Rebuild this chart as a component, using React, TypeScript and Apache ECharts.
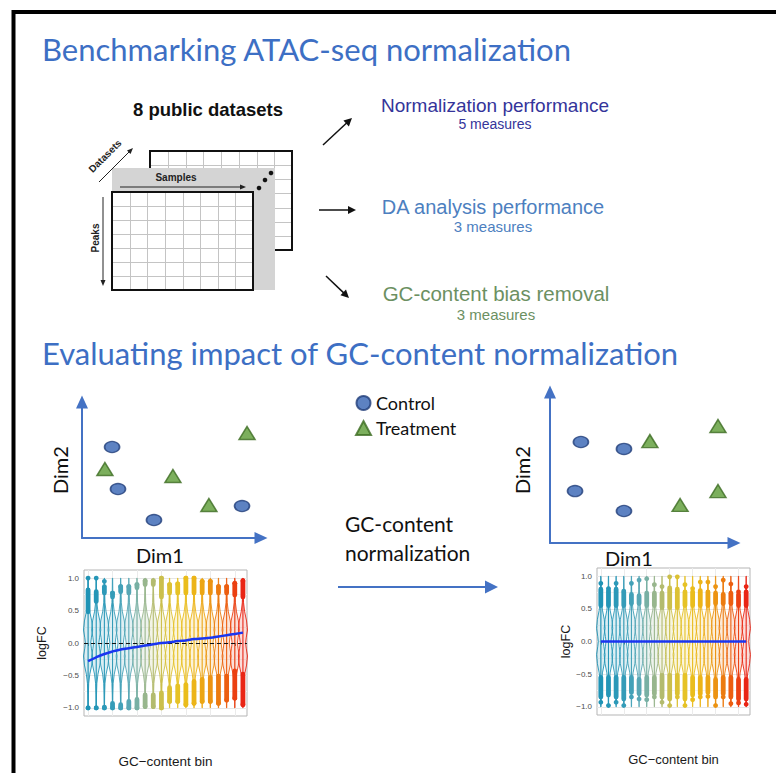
import React, { useEffect, useRef } from "react";
import * as echarts from "echarts";

// ---------- data ----------
const BINS = ["1","2","3","4","5","6","7","8","9","10","11","12","13","14","15","16","17","18","19","20"];
const BIN_COLORS = ["#1f93b5","#2596b7","#2c99b8","#359cb8","#43a1b8","#58a7b5","#78b0a4","#98b68d","#b3bb6e","#cbbf4c","#dcc133","#e6c226","#eabd1c","#ecb418","#eca615","#ec9312","#ec7b10","#ec5e10","#eb4012","#e92515"];

// violin density profile (relative half width along logFC)
const PROFILE_Y = [-1.0, -0.8, -0.62, -0.48, -0.34, -0.2, -0.08, 0.0, 0.08, 0.2, 0.34, 0.48, 0.62, 0.8, 1.0];
const PROFILE_W = [0.03, 0.06, 0.14, 0.38, 0.8, 1.0, 0.72, 0.58, 0.72, 1.0, 0.8, 0.38, 0.14, 0.06, 0.03];

// before normalization
const L_UP_MAX  = [1.00, 1.00, 0.95, 0.77, 0.87, 0.87, 0.90, 0.96, 0.96, 1.00, 0.90, 0.91, 1.00, 1.00, 0.95, 0.95, 0.87, 0.87, 0.92, 0.96];
const L_UP_HIGH = [0.82, 0.79, 0.87, 0.77, 0.87, 0.87, 0.90, 0.96, 0.96, 1.00, 0.90, 0.91, 1.00, 1.00, 0.95, 0.95, 0.87, 0.87, 0.92, 0.96];
const L_UP_LOW  = [0.48, 0.64, 0.77, 0.71, 0.79, 0.77, 0.85, 0.90, 0.90, 0.71, 0.77, 0.77, 0.77, 0.77, 0.77, 0.77, 0.77, 0.77, 0.74, 0.71];
const L_LO_HIGH = [-1.00, -1.00, -0.99, -0.93, -0.95, -0.90, -0.87, -0.80, -0.80, -0.77, -0.69, -0.66, -0.64, -0.59, -0.56, -0.53, -0.51, -0.51, -0.43, -0.48];
const L_LO_LOW  = [-1.00, -1.00, -1.00, -1.00, -1.00, -1.00, -1.00, -0.98, -0.98, -1.00, -0.90, -0.90, -0.95, -0.93, -0.90, -0.90, -0.93, -0.88, -0.85, -0.95];
const L_LO_MIN  = [-1.00, -1.00, -1.00, -1.00, -1.00, -1.00, -1.00, -0.98, -0.98, -1.00, -0.90, -0.90, -0.95, -0.93, -0.90, -0.90, -0.93, -0.88, -0.85, -0.95];
const LEFT_TREND = [-0.28, -0.22, -0.17, -0.13, -0.10, -0.08, -0.06, -0.04, -0.02, 0.00, 0.01, 0.03, 0.04, 0.06, 0.07, 0.08, 0.10, 0.12, 0.14, 0.16];

// after normalization
const R_UP_MAX  = [0.89, 0.81, 0.89, 0.77, 0.89, 0.94, 0.96, 0.87, 0.84, 0.99, 0.99, 0.87, 0.81, 0.91, 0.91, 0.84, 0.94, 0.88, 0.76, 0.84];
const R_UP_HIGH = [0.80, 0.78, 0.80, 0.75, 0.72, 0.70, 0.74, 0.74, 0.74, 0.82, 0.80, 0.76, 0.76, 0.78, 0.76, 0.74, 0.72, 0.74, 0.72, 0.76];
const R_UP_LOW  = [0.55, 0.55, 0.55, 0.55, 0.58, 0.58, 0.55, 0.55, 0.52, 0.52, 0.52, 0.55, 0.55, 0.55, 0.55, 0.58, 0.58, 0.58, 0.55, 0.55];
const R_LO_HIGH = [-0.55, -0.55, -0.55, -0.55, -0.55, -0.58, -0.55, -0.55, -0.52, -0.52, -0.52, -0.52, -0.55, -0.55, -0.55, -0.58, -0.55, -0.55, -0.58, -0.58];
const R_LO_LOW  = [-0.85, -0.82, -0.85, -0.88, -0.78, -0.80, -0.82, -0.80, -0.85, -0.88, -0.80, -0.88, -0.82, -0.80, -0.78, -0.85, -0.80, -0.85, -0.88, -0.88];
const R_LO_MIN  = [-0.93, -0.98, -0.93, -0.98, -0.85, -0.88, -0.89, -0.85, -0.93, -0.98, -0.85, -0.98, -0.89, -0.85, -0.84, -0.98, -0.85, -0.95, -0.94, -0.96];
const RIGHT_TREND = [0.00, 0.00, 0.00, 0.00, 0.00, 0.00, 0.00, 0.00, 0.00, 0.00, 0.00, 0.00, 0.00, 0.00, 0.00, 0.00, 0.00, 0.00, 0.00, 0.00];

// PCA-like scatter (Dim1, Dim2) in 0..100 units
const CONTROL_BEFORE = [[16.8, 66.9], [20.1, 36.0], [40.2, 13.2], [89.4, 23.5]];
const TREAT_BEFORE   = [[12.8, 50.7], [50.8, 45.6], [70.9, 24.3], [92.2, 77.2]];
const CONTROL_AFTER  = [[16.8, 66.9], [40.2, 62.3], [13.6, 34.4], [40.2, 21.2]];
const TREAT_AFTER    = [[54.3, 67.5], [91.3, 77.5], [91.3, 34.4], [70.7, 25.2]];

const Y_TICKS_LABELED = ["-1.0", "-0.5", "0.0", "0.5", "1.0"];

// ---------- helpers ----------
const BLUE = "#4472C4";
const CAL = "Lato, 'Open Sans', sans-serif";
const ARIAL = "'Liberation Sans', Arial, sans-serif";

function hexA(hex: string, a: number) {
  const n = parseInt(hex.slice(1), 16);
  return `rgba(${(n >> 16) & 255},${(n >> 8) & 255},${n & 255},${a})`;
}

function arrowEls(x1: number, y1: number, x2: number, y2: number, color: string, w: number, hl: number, hw: number) {
  const dx = x2 - x1, dy = y2 - y1, L = Math.hypot(dx, dy);
  const ux = dx / L, uy = dy / L;
  const bx = x2 - ux * hl, by = y2 - uy * hl;
  const px = -uy, py = ux;
  return [
    { type: "line", silent: true, shape: { x1, y1, x2: bx + ux, y2: by + uy }, style: { stroke: color, lineWidth: w } },
    { type: "polygon", silent: true, shape: { points: [[x2, y2], [bx + px * hw, by + py * hw], [bx - px * hw, by - py * hw]] }, style: { fill: color } },
  ];
}

function txt(x: number, y: number, text: string, font: string, fill: string, align = "left", rotation = 0) {
  return {
    type: "text", silent: true, x, y, rotation,
    style: { x: 0, y: 0, text, font, fill, align, verticalAlign: "middle", textAlign: align, textVerticalAlign: "middle" },
  };
}

function gridTable(x: number, y: number, w: number, h: number, cols: number, rows: number) {
  const els: any[] = [{ type: "rect", silent: true, shape: { x, y, width: w, height: h }, style: { fill: "#fff" } }];
  for (let c = 1; c < cols; c++) {
    const xx = Math.round(x + (w * c) / cols) + 0.5;
    els.push({ type: "line", silent: true, shape: { x1: xx, y1: y, x2: xx, y2: y + h }, style: { stroke: "#c4c4c4", lineWidth: 1 } });
  }
  for (let r = 1; r < rows; r++) {
    const yy = Math.round(y + (h * r) / rows) + 0.5;
    els.push({ type: "line", silent: true, shape: { x1: x, y1: yy, x2: x + w, y2: yy }, style: { stroke: "#c4c4c4", lineWidth: 1 } });
  }
  els.push({ type: "rect", silent: true, shape: { x, y, width: w, height: h }, style: { fill: "none", stroke: "#111", lineWidth: 2 } });
  return els;
}

function violinRender(params: any, api: any) {
  const i = api.value(0);
  const upMax = api.value(1), upHigh = api.value(2), upLow = api.value(3);
  const loHigh = api.value(4), loLow = api.value(5), loMin = api.value(6);
  const color = BIN_COLORS[i];
  const cx = api.coord([i, 0])[0];
  const band = api.size([1, 0])[0];
  const hw = band * 0.56;
  const y = (v: number) => api.coord([i, v])[1];
  const left: number[][] = [];
  const right: number[][] = [];
  for (let k = 0; k < PROFILE_Y.length; k++) {
    const py = y(PROFILE_Y[k]);
    left.push([cx - PROFILE_W[k] * hw, py]);
    right.unshift([cx + PROFILE_W[k] * hw, py]);
  }
  const r = 2.4;
  return {
    type: "group",
    children: [
      { type: "polygon", shape: { points: left.concat(right) }, style: { fill: hexA(color, 0.16), stroke: color, lineWidth: 0.9 } },
      { type: "line", shape: { x1: cx, y1: y(loMin), x2: cx, y2: y(upMax) }, style: { stroke: color, lineWidth: 1.1 } },
      { type: "rect", shape: { x: cx - r, y: y(upHigh) - r, width: 2 * r, height: y(upLow) - y(upHigh) + 2 * r, r }, style: { fill: color } },
      { type: "circle", shape: { cx, cy: y(upMax), r }, style: { fill: color } },
      { type: "rect", shape: { x: cx - r, y: y(loHigh) - r, width: 2 * r, height: y(loLow) - y(loHigh) + 2 * r, r }, style: { fill: color } },
      { type: "circle", shape: { cx, cy: y(loMin), r }, style: { fill: color } },
    ],
  };
}

function violinAxes(gridIndex: number, xGap: number, yGap: number, nameSize: number) {
  const x = {
    type: "category", gridIndex, data: BINS, boundaryGap: true,
    name: "GC\u2212content bin", nameLocation: "middle", nameGap: xGap,
    nameTextStyle: { fontFamily: ARIAL, fontSize: nameSize, color: "#1a1a1a" },
    axisLine: { show: false },
    axisTick: { show: true, alignWithLabel: true, length: 3, lineStyle: { color: "#444", width: 0.8 } },
    axisLabel: { show: false },
    splitLine: { show: true, alignWithLabel: true, lineStyle: { color: "#ebebeb", width: 1 } },
  };
  const yA = {
    type: "value", gridIndex, min: -1.125, max: 1.125, interval: 0.125,
    name: "logFC", nameLocation: "middle", nameGap: yGap, nameRotate: 90,
    nameTextStyle: { fontFamily: ARIAL, fontSize: 12.5, color: "#1a1a1a" },
    axisLine: { show: false },
    axisTick: { show: false },
    axisLabel: {
      fontFamily: ARIAL, fontSize: 8, color: "#4d4d4d", margin: 5,
      formatter: (v: number) => {
        const s = v.toFixed(1);
        return Y_TICKS_LABELED.indexOf(s) >= 0 && Math.abs(v * 2 - Math.round(v * 2)) < 1e-6 ? s.replace("-", "\u2212") : "";
      },
    },
    splitLine: { show: true, lineStyle: { color: ["transparent", "#e6e6e6", "transparent", "#f2f2f2"], width: 1 } },
  };
  return { x, y: yA };
}

function scatterAxes(gridIndex: number) {
  const line = { show: true, symbol: ["none", "triangle"], symbolSize: [12, 13], lineStyle: { color: BLUE, width: 2 } };
  return {
    x: { type: "value", gridIndex, min: 0, max: 100, axisLine: line, axisTick: { show: false }, axisLabel: { show: false }, splitLine: { show: false } },
    y: { type: "value", gridIndex, min: 0, max: 100, axisLine: line, axisTick: { show: false }, axisLabel: { show: false }, splitLine: { show: false } },
  };
}

const CIRCLE_STYLE = { color: "#3563b3", borderColor: "#1f3c78", borderWidth: 1.5 };
const TRI_STYLE = { color: "#5b9b35", borderColor: "#3c6b22", borderWidth: 1.5 };

export default function App() {
  const ref = useRef<HTMLDivElement>(null);
  useEffect(() => {
    document.body.style.margin = "0";
    if (!ref.current) return;
    const chart = echarts.init(ref.current, undefined, { renderer: "svg" });

    const s0 = scatterAxes(0), s1 = scatterAxes(1);
    const v2 = violinAxes(2, 38, 36, 13.5), v3 = violinAxes(3, 38, 22, 13);

    const violinData = (a: number[][]) => BINS.map((_, i) => [i, a[0][i], a[1][i], a[2][i], a[3][i], a[4][i], a[5][i]]);

    const graphic: any[] = [
      // frame
      { type: "rect", silent: true, shape: { x: 13.5, y: 12, width: 800, height: 800 }, style: { fill: "none", stroke: "#000", lineWidth: 4 } },
      // titles
      txt(42, 49, "Benchmarking ATAC-seq normalization", `31px ${CAL}`, "#3d6fc4"),
      txt(42, 353, "Evaluating impact of GC-content normalization", `31px ${CAL}`, "#3d6fc4"),
      // dataset diagram
      txt(208, 109, "8 public datasets", `bold 18.5px ${ARIAL}`, "#111", "center"),
      ...gridTable(150, 151, 142, 99, 8, 7),
      { type: "rect", silent: true, shape: { x: 112, y: 168, width: 163, height: 122 }, style: { fill: "#d4d4d4" } },
      ...gridTable(112, 192, 141, 98, 8, 7),
      txt(176, 177, "Samples", `bold 10px ${ARIAL}`, "#222", "center"),
      ...arrowEls(120, 187, 246, 187, "#222", 1, 6, 2.5),
      { type: "circle", silent: true, shape: { cx: 259, cy: 188, r: 2.3 }, style: { fill: "#111" } },
      { type: "circle", silent: true, shape: { cx: 265, cy: 180, r: 2.3 }, style: { fill: "#111" } },
      { type: "circle", silent: true, shape: { cx: 271, cy: 173, r: 2.3 }, style: { fill: "#111" } },
      txt(105, 156, "Datasets", `bold 10px ${ARIAL}`, "#222", "center", Math.PI / 4),
      ...arrowEls(99, 182, 133, 148, "#222", 1, 6, 2.5),
      txt(95, 238, "Peaks", `bold 10px ${ARIAL}`, "#222", "center", Math.PI / 2),
      ...arrowEls(103, 197, 103, 286, "#222", 1, 6, 2.5),
      // outcome arrows & texts
      ...arrowEls(323, 145, 352, 118, "#111", 1.5, 8, 4),
      ...arrowEls(319, 210, 356, 210, "#111", 1.5, 8, 4),
      ...arrowEls(326, 276, 349, 298, "#111", 1.5, 8, 4),
      txt(495, 105, "Normalization performance", `19px ${ARIAL}`, "#34349a", "center"),
      txt(495, 124, "5 measures", `14px ${ARIAL}`, "#34349a", "center"),
      txt(493, 207, "DA analysis performance", `20px ${ARIAL}`, "#4d7fbf", "center"),
      txt(493, 226, "3 measures", `15px ${ARIAL}`, "#4d7fbf", "center"),
      txt(496, 293, "GC-content bias removal", `20.5px ${ARIAL}`, "#6c9062", "center"),
      txt(496, 314, "3 measures", `15px ${ARIAL}`, "#6c9062", "center"),
      // scatter labels
      txt(160, 555, "Dim1", `20px ${CAL}`, "#111", "center"),
      txt(60, 470, "Dim2", `20px ${CAL}`, "#111", "center", Math.PI / 2),
      txt(629, 558, "Dim1", `20px ${CAL}`, "#111", "center"),
      txt(522, 470, "Dim2", `20px ${CAL}`, "#111", "center", Math.PI / 2),
      // middle
      txt(345, 523, "GC-content", `21px ${CAL}`, "#111"),
      txt(345, 552, "normalization", `21px ${CAL}`, "#111"),
      ...arrowEls(338, 587, 498, 587, BLUE, 2, 13, 6.5),
    ];

    chart.setOption({
      animation: false,
      backgroundColor: "#ffffff",
      grid: [
        { left: 82, top: 402, width: 179, height: 136 },
        { left: 550, top: 392, width: 184, height: 151 },
        { left: 84, top: 570, width: 163, height: 146, show: true, borderColor: "#b5b5b5", borderWidth: 1, backgroundColor: "#fff" },
        { left: 597, top: 568, width: 153, height: 147, show: true, borderColor: "#b5b5b5", borderWidth: 1, backgroundColor: "#fff" },
      ],
      xAxis: [s0.x, s1.x, v2.x, v3.x],
      yAxis: [s0.y, s1.y, v2.y, v3.y],
      legend: {
        left: 350, top: 389, orient: "vertical", itemGap: 7, itemWidth: 15, itemHeight: 14,
        textStyle: { fontFamily: CAL, fontSize: 18, color: "#111" },
        data: [{ name: "Control", icon: "circle" }, { name: "Treatment", icon: "triangle" }],
      },
      series: [
        { name: "Control", type: "scatter", xAxisIndex: 0, yAxisIndex: 0, data: CONTROL_BEFORE, symbol: "circle", symbolSize: [15, 11], itemStyle: CIRCLE_STYLE },
        { name: "Treatment", type: "scatter", xAxisIndex: 0, yAxisIndex: 0, data: TREAT_BEFORE, symbol: "triangle", symbolSize: [16, 13], itemStyle: TRI_STYLE },
        { name: "Control", type: "scatter", xAxisIndex: 1, yAxisIndex: 1, data: CONTROL_AFTER, symbol: "circle", symbolSize: [15, 11], itemStyle: CIRCLE_STYLE },
        { name: "Treatment", type: "scatter", xAxisIndex: 1, yAxisIndex: 1, data: TREAT_AFTER, symbol: "triangle", symbolSize: [16, 13], itemStyle: TRI_STYLE },
        {
          name: "before", type: "custom", xAxisIndex: 2, yAxisIndex: 2, z: 2,
          data: violinData([L_UP_MAX, L_UP_HIGH, L_UP_LOW, L_LO_HIGH, L_LO_LOW, L_LO_MIN]),
          encode: { x: 0, y: 1 }, renderItem: violinRender, silent: true,
        },
        {
          name: "trendBefore", type: "line", xAxisIndex: 2, yAxisIndex: 2, z: 4, data: LEFT_TREND,
          showSymbol: false, symbol: "none", smooth: true, lineStyle: { color: "#1a35f0", width: 2.5 }, silent: true,
          markLine: { silent: true, symbol: "none", label: { show: false }, lineStyle: { type: [4, 3], color: "#111", width: 1.2 }, data: [{ yAxis: 0 }], z: 3 },
        },
        {
          name: "after", type: "custom", xAxisIndex: 3, yAxisIndex: 3, z: 2,
          data: violinData([R_UP_MAX, R_UP_HIGH, R_UP_LOW, R_LO_HIGH, R_LO_LOW, R_LO_MIN]),
          encode: { x: 0, y: 1 }, renderItem: violinRender, silent: true,
        },
        {
          name: "trendAfter", type: "line", xAxisIndex: 3, yAxisIndex: 3, z: 4, data: RIGHT_TREND,
          showSymbol: false, symbol: "none", lineStyle: { color: "#1a35f0", width: 2.5 }, silent: true,
        },
      ],
      graphic,
    });
    return () => chart.dispose();
  }, []);
  return <div ref={ref} style={{ width: 776, height: 773 }} />;
}
